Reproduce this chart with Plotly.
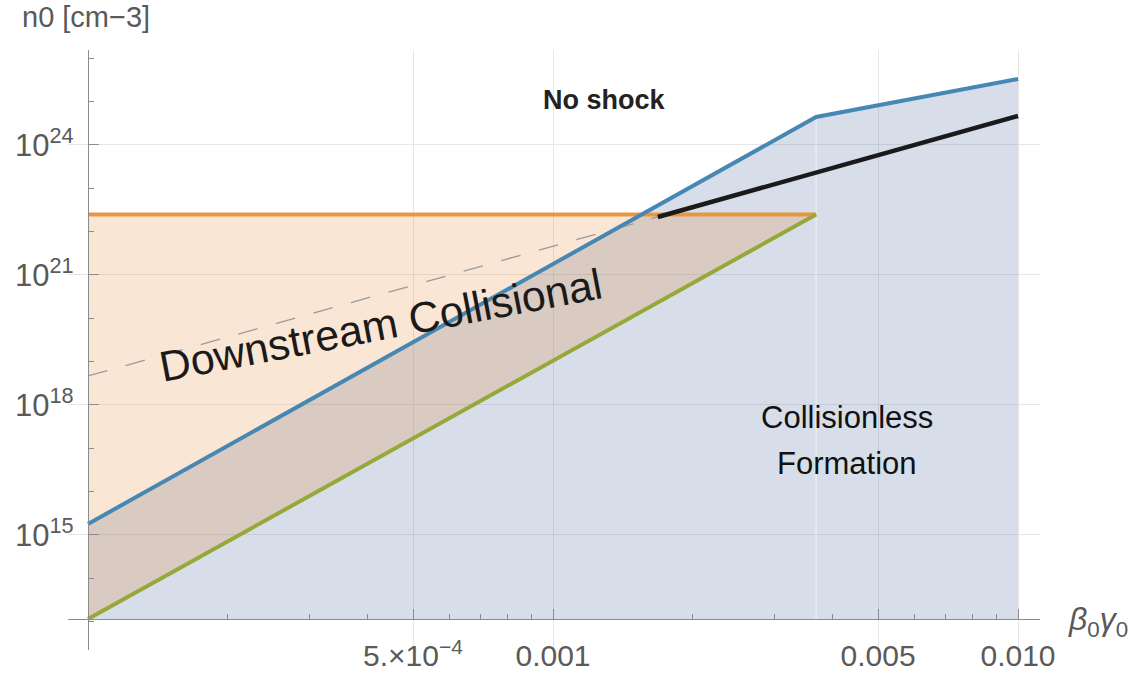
import plotly.graph_objects as go

# ---- curve vertices (beta0*gamma0, n0 in cm^-3) ----
blue_x = [1e-4, 3.68e-3, 1e-2]
blue_y = [1.8e15, 4.43e24, 3.33e25]

orange_x = [1e-4, 3.68e-3]
orange_y = [2.49e22, 2.49e22]

green_x = [1e-4, 3.68e-3]
green_y = [1.15e13, 2.49e22]

black_x = [1.68e-3, 1e-2]
black_y = [2.18e22, 4.67e24]

dashed_x = [1e-4, 1.68e-3]
dashed_y = [4.67e18, 2.18e22]

y_floor = 1.15e13

# ---- axis ticks ----
x_tickvals = [5e-4, 1e-3, 5e-3, 1e-2]
x_ticktext = ["5.\u00d710<sup>\u22124</sup>", "0.001", "0.005", "0.010"]
x_minor = [2e-4, 3e-4, 4e-4, 6e-4, 7e-4, 8e-4, 9e-4,
           2e-3, 3e-3, 4e-3, 6e-3, 7e-3, 8e-3, 9e-3]

y_tickvals = [1e15, 1e18, 1e21, 1e24]
y_ticktext = ["10<sup>15</sup>", "10<sup>18</sup>", "10<sup>21</sup>", "10<sup>24</sup>"]
y_minor = [1e13, 1e14, 1e16, 1e17, 1e19, 1e20, 1e22, 1e23, 1e25, 1e26]

FONT = "Liberation Sans, Arial, sans-serif"
GRAY = "#5a5a5a"

fig = go.Figure()

# blue region: under the blue curve down to the axis
fig.add_trace(go.Scatter(
    x=blue_x + [blue_x[-1], blue_x[0]],
    y=blue_y + [y_floor, y_floor],
    fill="toself", fillcolor="rgba(95,123,167,0.25)",
    line=dict(width=0), mode="lines", hoverinfo="skip"))

# orange region: between green line and the orange level
fig.add_trace(go.Scatter(
    x=orange_x + [green_x[0]],
    y=orange_y + [green_y[0]],
    fill="toself", fillcolor="rgba(230,130,40,0.2)",
    line=dict(width=0), mode="lines", hoverinfo="skip"))

# seam between the two pieces of the blue region
fig.add_trace(go.Scatter(
    x=[blue_x[1], blue_x[1]], y=[y_floor, blue_y[1]],
    mode="lines", line=dict(color="rgba(255,255,255,0.6)", width=1.2),
    hoverinfo="skip"))

fig.add_trace(go.Scatter(x=dashed_x, y=dashed_y, mode="lines",
                         line=dict(color="#9a9a9a", width=1.3, dash="20px,19px"),
                         hoverinfo="skip"))
fig.add_trace(go.Scatter(x=orange_x, y=orange_y, mode="lines",
                         line=dict(color="#e8963f", width=4), hoverinfo="skip"))
fig.add_trace(go.Scatter(x=green_x, y=green_y, mode="lines",
                         line=dict(color="#97a83b", width=4), hoverinfo="skip"))
fig.add_trace(go.Scatter(x=blue_x, y=blue_y, mode="lines",
                         line=dict(color="#4787b3", width=4), hoverinfo="skip"))
fig.add_trace(go.Scatter(x=black_x, y=black_y, mode="lines",
                         line=dict(color="#1a1a1a", width=4.5), hoverinfo="skip"))

annotations = [
    dict(text="n0 [cm\u22123]", xref="paper", yref="paper", x=-0.0494, y=1.055,
         xanchor="left", yanchor="middle", showarrow=False,
         font=dict(family=FONT, size=29, color=GRAY)),
    dict(text="<i>\u03b2</i><sub>0</sub><i>\u03b3</i><sub>0</sub>", xref="paper", yref="paper",
         x=1.0265, y=0.0467, xanchor="left", yanchor="middle", showarrow=False,
         font=dict(family=FONT, size=32, color=GRAY)),
    dict(text="<b>No shock</b>", xref="x", yref="y", x=-2.890, y=25.04,
         showarrow=False, font=dict(family=FONT, size=27, color="#222222")),
    dict(text="Collisionless", xref="x", yref="y", x=-2.368, y=17.72,
         showarrow=False, font=dict(family=FONT, size=31, color="#111111")),
    dict(text="Formation", xref="x", yref="y", x=-2.368, y=16.64,
         showarrow=False, font=dict(family=FONT, size=31, color="#111111")),
    dict(text="Downstream Collisional", xref="x", yref="y", x=-3.370, y=19.85,
         showarrow=False, textangle=-10.8,
         font=dict(family=FONT, size=43, color="#1a1a1a")),
]

fig.update_layout(
    width=1141, height=676,
    margin=dict(l=68, r=101, t=50, b=26, autoexpand=False),
    paper_bgcolor="white", plot_bgcolor="white",
    showlegend=False,
    annotations=annotations,
    xaxis=dict(
        type="log", range=[-4.043, -1.9527],
        anchor="free", position=0.0517, automargin=False,
        showline=True, linecolor="#8c8c8c", linewidth=1.3,
        ticks="inside", ticklen=10, tickwidth=1.3, tickcolor="#8c8c8c",
        tickvals=x_tickvals, ticktext=x_ticktext,
        tickfont=dict(family=FONT, size=30, color=GRAY),
        ticklabelstandoff=10,
        showgrid=True, gridcolor="#e6e6e6", gridwidth=1,
        minor=dict(tickvals=x_minor, ticks="inside", ticklen=5,
                   tickcolor="#8c8c8c", tickwidth=1.1, showgrid=False),
        zeroline=False, fixedrange=True,
    ),
    yaxis=dict(
        type="log", range=[12.346, 26.192],
        anchor="free", position=0.02058, automargin=False,
        showline=True, linecolor="#8c8c8c", linewidth=1.3,
        ticks="inside", ticklen=10, tickwidth=1.3, tickcolor="#8c8c8c",
        tickvals=y_tickvals, ticktext=y_ticktext,
        tickfont=dict(family=FONT, size=31, color=GRAY),
        ticklabelstandoff=8,
        showgrid=True, gridcolor="#e6e6e6", gridwidth=1,
        minor=dict(tickvals=y_minor, ticks="inside", ticklen=5,
                   tickcolor="#8c8c8c", tickwidth=1.1, showgrid=False),
        zeroline=False, fixedrange=True,
    ),
)

fig.write_html("out.html")
